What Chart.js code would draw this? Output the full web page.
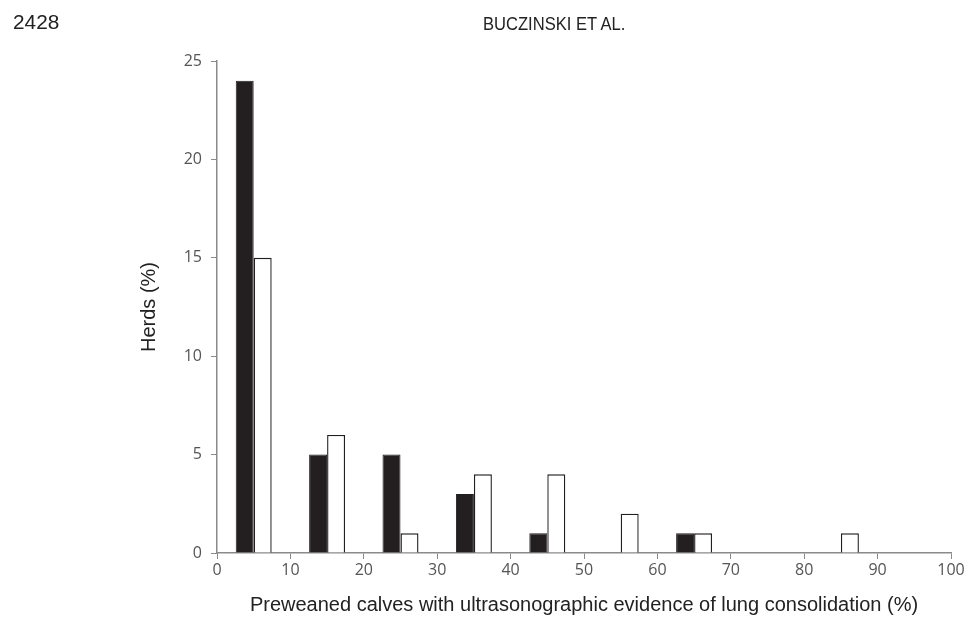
<!DOCTYPE html>
<html>
<head>
<meta charset="utf-8">
<script src="https://cdn.jsdelivr.net/npm/chart.js@4.4.1/dist/chart.umd.min.js"></script>
<style>
    html, body { margin: 0; padding: 0; background: #fff; overflow: hidden; }
    #wrap { position: absolute; left: 0; top: 0; width: 990px; height: 621px; }
    .hdr { position: absolute; font-family: 'Liberation Sans', Arial, sans-serif; color: #222; white-space: nowrap; transform-origin: left top; }
    #page { left: 13px; top: 11px; font-size: 20px; transform: scaleX(1.04); }
    #running { left: 483px; top: 14px; font-size: 18px; transform: scaleX(0.92); }
    #edge { position: absolute; left: 968px; top: 540px; width: 10px; height: 50px; background: #fff; }
</style>
</head>
<body>
<div id="wrap"><canvas id="barChart" width="990" height="621"></canvas></div>
<div class="hdr" id="page">2428</div>
<div class="hdr" id="running">BUCZINSKI ET AL.</div>
<div id="edge"></div>
<script>
// bin centres (0-10, 10-20, ...)
const binCentres = [5, 15, 25, 35, 45, 55, 65, 75, 85, 95];
const darkBars = [24, 5, 5, 3, 1, 0, 1, 0, 0, 0];
const lightBars = [15, 6, 1, 4, 4, 2, 1, 0, 1, 0];
const yTicks = [0, 5, 10, 15, 20, 25];
const xTicks = [0, 10, 20, 30, 40, 50, 60, 70, 80, 90, 100];

function toPoints(values) {
    return binCentres.map(function(x, i) {
        return { x: x, y: values[i] === 0 ? null : values[i] };
    });
}

const axisGrey = '#8a8a8a';
const tickFont = { family: 'Open Sans', size: 16 };

document.addEventListener('DOMContentLoaded', function() {
    const ctx = document.getElementById('barChart').getContext('2d');

    new Chart(ctx, {
        type: 'bar',
        data: {
            datasets: [{
                label: 'dark',
                data: toPoints(darkBars),
                backgroundColor: '#231f20',
                borderColor: '#231f20',
                borderWidth: 1,
                categoryPercentage: 0.49,
                barPercentage: 1
            }, {
                label: 'light',
                data: toPoints(lightBars),
                backgroundColor: '#ffffff',
                borderColor: '#231f20',
                borderWidth: 1.4,
                categoryPercentage: 0.49,
                barPercentage: 1
            }]
        },
        options: {
            responsive: false,
            animation: false,
            layout: { padding: { top: 61, right: 39, left: 0, bottom: 0 } },
            plugins: {
                legend: { display: false },
                tooltip: { enabled: false }
            },
            scales: {
                x: {
                    type: 'linear',
                    min: 0,
                    max: 100,
                    offset: false,
                    afterFit: function(scale) { scale.height = 68; },
                    afterBuildTicks: function(scale) {
                        scale.ticks = xTicks.map(function(v) { return { value: v }; });
                    },
                    ticks: { color: '#555', font: tickFont, padding: 2, maxRotation: 0 },
                    grid: { display: true, drawOnChartArea: false, drawTicks: true, tickLength: 6, color: axisGrey, offset: false },
                    border: { display: true, color: axisGrey, width: 1.5 },
                    title: {
                        display: true,
                        text: 'Preweaned calves with ultrasonographic evidence of lung consolidation (%)',
                        color: '#222',
                        font: { family: 'Liberation Sans', size: 20 },
                        padding: { top: 0, bottom: 4 }
                    }
                },
                y: {
                    min: 0,
                    max: 25,
                    afterFit: function(scale) { scale.width = 217; },
                    afterBuildTicks: function(scale) {
                        scale.ticks = yTicks.map(function(v) { return { value: v }; });
                    },
                    ticks: { color: '#555', font: tickFont, padding: 9 },
                    grid: { display: true, drawOnChartArea: false, drawTicks: true, tickLength: 6, color: axisGrey },
                    border: { display: true, color: axisGrey, width: 1.5 },
                    title: {
                        display: true,
                        text: 'Herds (%)',
                        color: '#222',
                        font: { family: 'Liberation Sans', size: 20 },
                        padding: { top: 137, bottom: 0 }
                    }
                }
            }
        }
    });
});
</script>
</body>
</html>
